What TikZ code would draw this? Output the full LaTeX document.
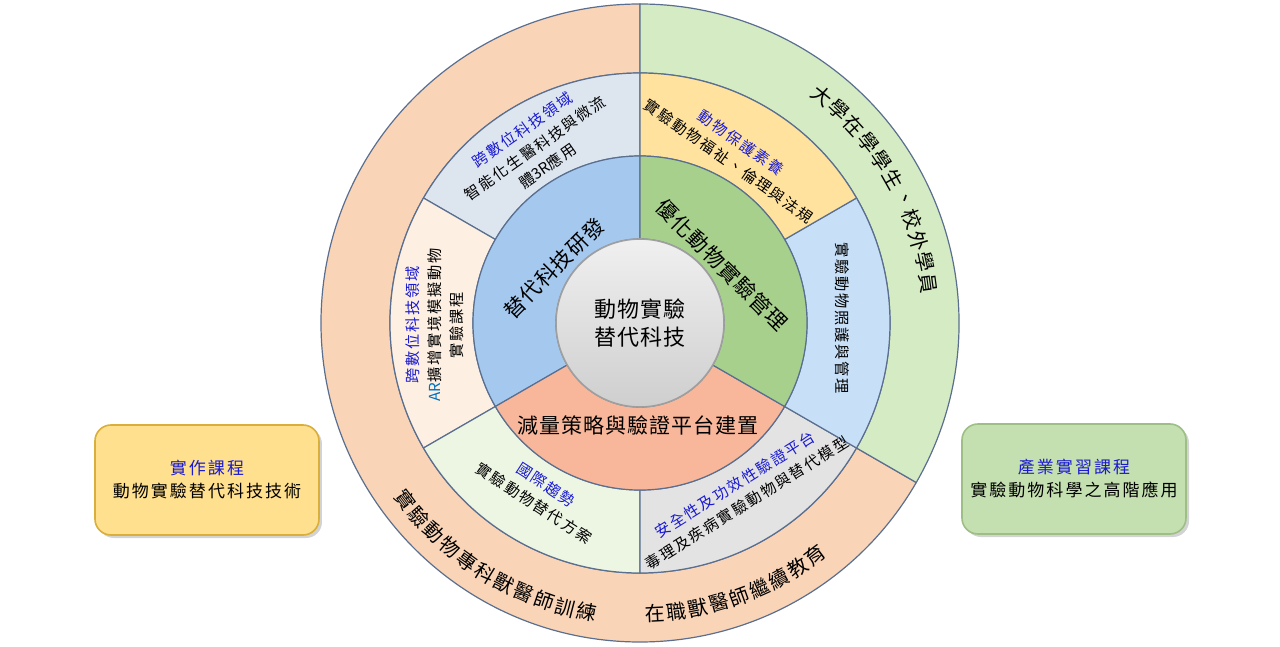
\documentclass[tikz,border=0pt]{standalone}
\usepackage{fontspec}
\setmainfont{Noto Sans CJK TC}
\usetikzlibrary{shadows}
\definecolor{outpeach}{HTML}{FAD4B6}
\definecolor{outgreen}{HTML}{D5EBC3}
\definecolor{midtl}{HTML}{DDE5EF}
\definecolor{midl}{HTML}{FDF0E3}
\definecolor{midbl}{HTML}{EDF6E3}
\definecolor{midbr}{HTML}{E3E3E3}
\definecolor{midr}{HTML}{C8E0F7}
\definecolor{midtr}{HTML}{FFE29E}
\definecolor{inblue}{HTML}{A5C8EE}
\definecolor{ingreen}{HTML}{A8D08D}
\definecolor{inorange}{HTML}{F8B79A}
\definecolor{rimline}{HTML}{5A6F90}
\definecolor{tblue}{HTML}{1A1AD0}
\definecolor{arblue}{HTML}{0070C0}
\definecolor{boxyellow}{HTML}{FFE08E}
\definecolor{boxyline}{HTML}{D9AE3A}
\definecolor{boxgreen}{HTML}{C4DFB0}
\definecolor{boxgline}{HTML}{9DBF85}
\begin{document}
\begin{tikzpicture}[x=0.5pt, y=0.5pt,
    ring/.style={draw=rimline, line width=0.6pt},
    big/.style={inner sep=0pt, font=\fontsize{10.5}{13}\selectfont\addfontfeatures{LetterSpace=5}},
    lbl/.style={inner sep=0pt, align=center, font=\fontsize{7.6}{11}\selectfont\addfontfeatures{LetterSpace=12}},
    arcch/.style={inner sep=0pt, font=\fontsize{10}{10}\selectfont},
    card/.style={rounded corners=8pt, line width=0.8pt, minimum width=112pt, minimum height=55pt,
      align=center, font=\fontsize{8.5}{11.5}\selectfont\addfontfeatures{LetterSpace=12},
      drop shadow={shadow xshift=1.5pt, shadow yshift=-1.5pt, opacity=0.35}}]
  \useasboundingbox (-640,-324) rectangle (640,323);
  % outer ring
  \filldraw[ring, fill=outpeach] (90:319) arc[start angle=90, end angle=330, radius=319]
    -- (330:250) arc[start angle=330, end angle=90, radius=250] -- cycle;
  \filldraw[ring, fill=outgreen] (-30:319) arc[start angle=-30, end angle=90, radius=319]
    -- (90:250) arc[start angle=90, end angle=-30, radius=250] -- cycle;
  % middle ring
  \foreach \a/\c in {90/midtl, 150/midl, 210/midbl, 270/midbr, 330/midr, 30/midtr}
    \filldraw[ring, fill=\c] (\a:250) arc[start angle=\a, end angle=\a+60, radius=250]
      -- ({\a+60}:167) arc[start angle=\a+60, end angle=\a, radius=167] -- cycle;
  % inner ring
  \foreach \a/\c in {90/inblue, 210/inorange, 330/ingreen}
    \filldraw[ring, fill=\c] (\a:167) arc[start angle=\a, end angle=\a+120, radius=167]
      -- ({\a+120}:84) arc[start angle=\a+120, end angle=\a, radius=84] -- cycle;
  \node[circle, draw=gray!75, line width=0.8pt, top color=gray!12, bottom color=gray!38,
    minimum size=84pt, inner sep=0pt, align=center,
    font=\fontsize{11}{14}\selectfont\addfontfeatures{LetterSpace=5}]
    (core) at (0,0) {動物實驗\\替代科技};

  \node[big, rotate=45] (rd) at (-86,55) {替代科技研發};
  \node[big, rotate=-45] (mgmt) at (82,58) {優化動物實驗管理};
  \node[big] (redu) at (-2,-102) {減量策略與驗證平台建置};

  \node[lbl, rotate=35] (digi) at (-105,175) {\textcolor{tblue}{跨數位科技領域}\\智能化生醫科技與微流\\體{\addfontfeatures{LetterSpace=0}3R}應用};
  \node[lbl, rotate=-35] (welfare) at (95,171) {\textcolor{tblue}{動物保護素養}\\實驗動物福祉、倫理與法規};
  \node[lbl, rotate=90] (arlab) at (-205,-2) {\textcolor{tblue}{跨數位科技領域}\\\textcolor{arblue}{\addfontfeatures{LetterSpace=0}AR}擴增實境模擬動物\\實驗課程};
  \node[lbl, rotate=-90] (care) at (202,5) {實驗動物照護與管理};
  \node[lbl, rotate=-33] (trend) at (-100,-171) {\textcolor{tblue}{國際趨勢}\\實驗動物替代方案};
  \node[lbl, rotate=32] (safety) at (101,-171) {\textcolor{tblue}{安全性及功效性驗證平台}\\毒理及疾病實驗動物與替代模型};

  % outer ring text, one glyph at a time
  \foreach \ch [count=\i] in {大,學,在,學,學,生,、,校,外,學,員}
    \node[arcch, rotate={55.7-4.36*\i-90}] (stu\i) at ({55.7-4.36*\i}:291) {\ch};
  \foreach \ch [count=\i] in {實,驗,動,物,專,科,獸,醫,師,訓,練}
    \node[arcch, rotate={212.75+4.25*\i+90}] (spec\i) at ({212.75+4.25*\i}:294) {\ch};
  \foreach \ch [count=\i] in {在,職,獸,醫,師,繼,續,教,育}
    \node[arcch, rotate={268.75+4.25*\i+90}] (cont\i) at ({268.75+4.25*\i}:291) {\ch};

  \node[card, fill=boxyellow, draw=boxyline] (hands) at (-433,-157) {\textcolor{tblue}{實作課程}\\動物實驗替代科技技術};
  \node[card, fill=boxgreen, draw=boxgline] (intern) at (434,-156) {\textcolor{tblue}{產業實習課程}\\實驗動物科學之高階應用};
\end{tikzpicture}
\end{document}
